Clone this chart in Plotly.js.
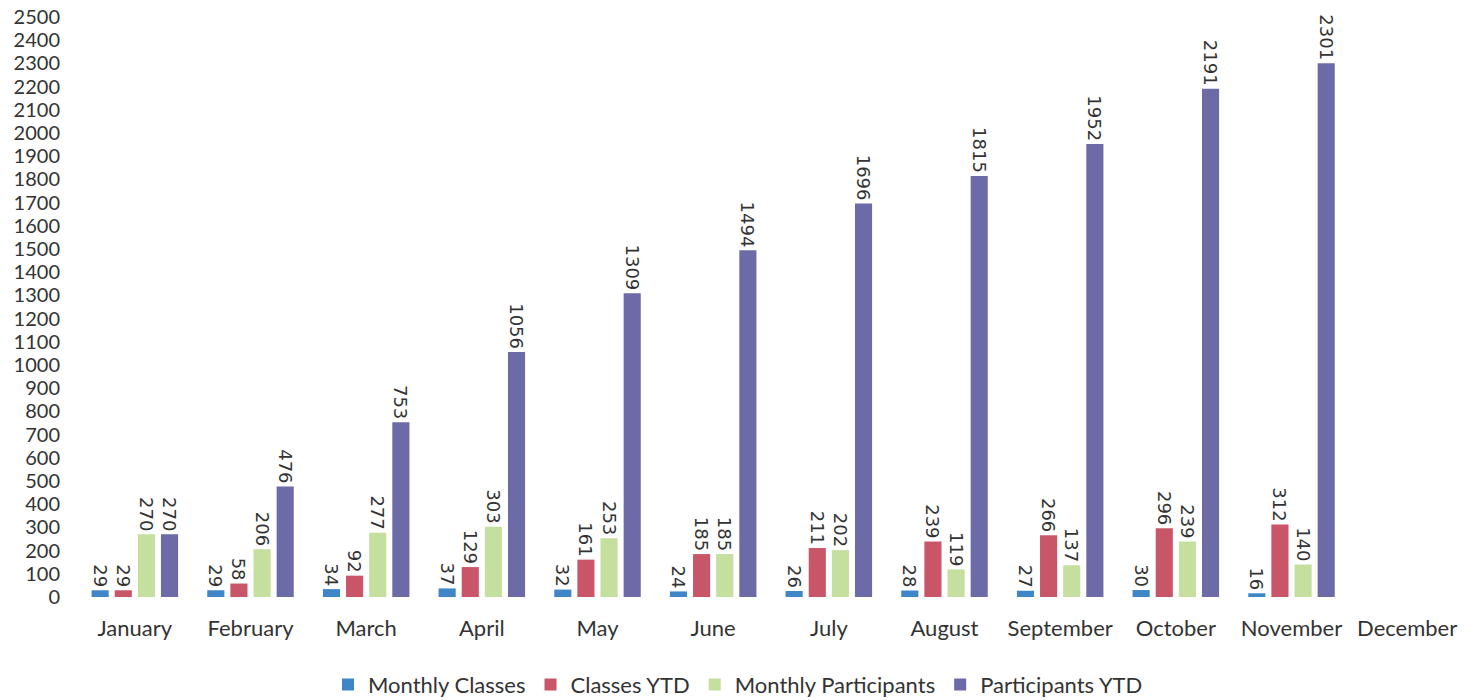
<!DOCTYPE html>
<html>
<head>
<meta charset="utf-8">
<script src="https://cdn.plot.ly/plotly-3.0.1.min.js"></script>
<style>html,body{margin:0;padding:0;background:#fff;}#chart{width:1476px;height:700px;}</style>
</head>
<body>
<div id="chart"></div>
<script>
const months = ["January","February","March","April","May","June","July","August","September","October","November","December"];
const monthlyClasses = [29, 29, 34, 37, 32, 24, 26, 28, 27, 30, 16, null];
const classesYTD = [29, 58, 92, 129, 161, 185, 211, 239, 266, 296, 312, null];
const monthlyParticipants = [270, 206, 277, 303, 253, 185, 202, 119, 137, 239, 140, null];
const participantsYTD = [270, 476, 753, 1056, 1309, 1494, 1696, 1815, 1952, 2191, 2301, null];
const yTicks = [0,100,200,300,400,500,600,700,800,900,1000,1100,1200,1300,1400,1500,1600,1700,1800,1900,2000,2100,2200,2300,2400,2500];

function series(name, vals, color) {
  return {
    type: 'bar', name: name, x: months, y: vals,
    marker: {color: color},
    text: vals.map(v => v === null ? '' : String(v)),
    textposition: 'outside', textangle: 90, constraintext: 'none',
    textfont: {family: 'DejaVu Sans, sans-serif', size: 18, color: '#333'},
    cliponaxis: false, hoverinfo: 'x+y+name'
  };
}
const data = [
  series('Monthly Classes', monthlyClasses, '#3f86c8'),
  series('Classes YTD', classesYTD, '#c95568'),
  series('Monthly Participants', monthlyParticipants, '#c4df9e'),
  series('Participants YTD', participantsYTD, '#6c6ba7')
];
const layout = {
  width: 1476, height: 700,
  margin: {l: 77, r: 11, t: 10, b: 103},
  paper_bgcolor: '#fff', plot_bgcolor: '#fff',
  barmode: 'group', bargap: 0.2, bargroupgap: 0.26,
  font: {family: 'Lato, sans-serif', color: '#333'},
  xaxis: {tickfont: {size: 22, color: '#333'}, showline: false, showgrid: false, ticks: '', ticklabelstandoff: 16, automargin: false},
  yaxis: {range: [0, 2530], tickvals: yTicks, ticktext: yTicks.map(String), showgrid: false, zeroline: false, showline: false,
          tickfont: {size: 20, color: '#333'}, ticklabelstandoff: 16, automargin: false},
  showlegend: true,
  legend: {orientation: 'h', x: 0.5, xanchor: 'center', xref: 'container', y: 0.022, yanchor: 'middle', yref: 'container',
           font: {size: 22, color: '#333'}, traceorder: 'normal'}
};
Plotly.newPlot('chart', data, layout, {displayModeBar: false, staticPlot: true});
</script>
</body>
</html>
